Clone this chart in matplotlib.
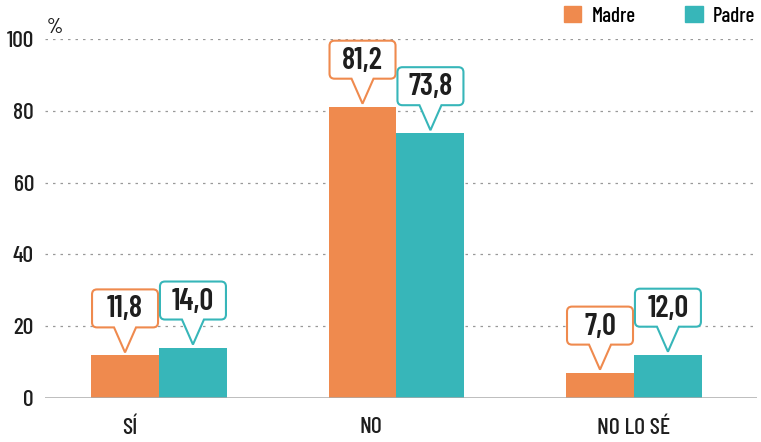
import matplotlib
matplotlib.use("Agg")
import matplotlib.pyplot as plt
import numpy as np
from matplotlib.path import Path
from matplotlib.patches import PathPatch, Patch
from matplotlib.transforms import IdentityTransform

plt.rcParams['font.family'] = ['Barlow Condensed', 'DejaVu Sans']

categories = ["SÍ", "NO", "NO LO SÉ"]
madre = [11.8, 81.2, 7.0]
padre = [14.0, 73.8, 12.0]
labels_madre = ["11,8", "81,2", "7,0"]
labels_padre = ["14,0", "73,8", "12,0"]
yticks = [0, 20, 40, 60, 80, 100]

orange = "#EF8A4E"
teal = "#37B6B9"
ink = "#1e1e1e"

fig = plt.figure(figsize=(7.61, 4.42), dpi=100)
ax = fig.add_axes([45 / 761, 1 - 397.7 / 442, (757 - 45) / 761, (397.7 - 39.3) / 442])

x = np.arange(len(categories))
w = 0.286
ax.bar(x - w / 2, madre, w, color=orange, zorder=3)
ax.bar(x + w / 2, padre, w, color=teal, zorder=3)

ax.set_xlim(-0.48, 2.518)
ax.set_ylim(0, 100)
ax.set_yticks(yticks)
ax.set_yticklabels([str(t) for t in yticks], fontsize=17, color=ink, fontweight="medium")
for t in yticks[1:]:
    ax.axhline(t, color="#999999", lw=0.9, ls=(0, (2, 4)), zorder=1)
ax.axhline(0, color="#aaaaaa", lw=1.8, zorder=4)
for s in ax.spines.values():
    s.set_visible(False)
ax.tick_params(axis="y", length=0, pad=8)
ax.set_xticks(x - 0.156)
ax.set_xticklabels(categories, fontsize=17, ha="left", color=ink, fontweight="medium")
ax.tick_params(axis="x", length=0, pad=14)

ax.annotate("%", xy=(0, 1), xycoords="axes fraction", xytext=(1, 2),
            textcoords="offset points", ha="left", va="bottom", fontsize=15,
            color=ink, fontweight="medium")

fig.legend(handles=[Patch(color=orange), Patch(color=teal)], labels=["Madre", "Padre"],
           ncol=2, frameon=False, loc="upper right", bbox_to_anchor=(1.0, 1.0),
           borderaxespad=0, borderpad=0.3,
           handlelength=0.82, handleheight=0.82, handletextpad=0.48,
           columnspacing=2.4, prop={"weight": "medium", "size": 15})


def callout(xc, val, text, color):
    px, py = ax.transData.transform((xc, val))
    tip = py + 3
    b = py + 28
    t = b + 38
    l = px - 33
    r = px + 33
    rad = 5
    hw = 11
    verts = [
        (px - hw, b), (px, tip), (px + hw, b),
        (r - rad, b), (r, b), (r, b + rad),
        (r, t - rad), (r, t), (r - rad, t),
        (l + rad, t), (l, t), (l, t - rad),
        (l, b + rad), (l, b), (l + rad, b),
        (px - hw, b),
    ]
    codes = [Path.MOVETO, Path.LINETO, Path.LINETO,
             Path.LINETO, Path.CURVE3, Path.CURVE3,
             Path.LINETO, Path.CURVE3, Path.CURVE3,
             Path.LINETO, Path.CURVE3, Path.CURVE3,
             Path.LINETO, Path.CURVE3, Path.CURVE3,
             Path.CLOSEPOLY]
    patch = PathPatch(Path(verts, codes), facecolor="white", edgecolor=color,
                      lw=1.5, transform=IdentityTransform(), zorder=5)
    fig.add_artist(patch)
    fig.text(px, (b + t) / 2 - 1, text, transform=IdentityTransform(), ha="center",
             va="center", fontsize=22, fontweight="semibold", color=ink, zorder=6)


for i in range(len(categories)):
    callout(x[i] - w / 2, madre[i], labels_madre[i], orange)
    callout(x[i] + w / 2, padre[i], labels_padre[i], teal)

fig.savefig("out.png", dpi=100)
